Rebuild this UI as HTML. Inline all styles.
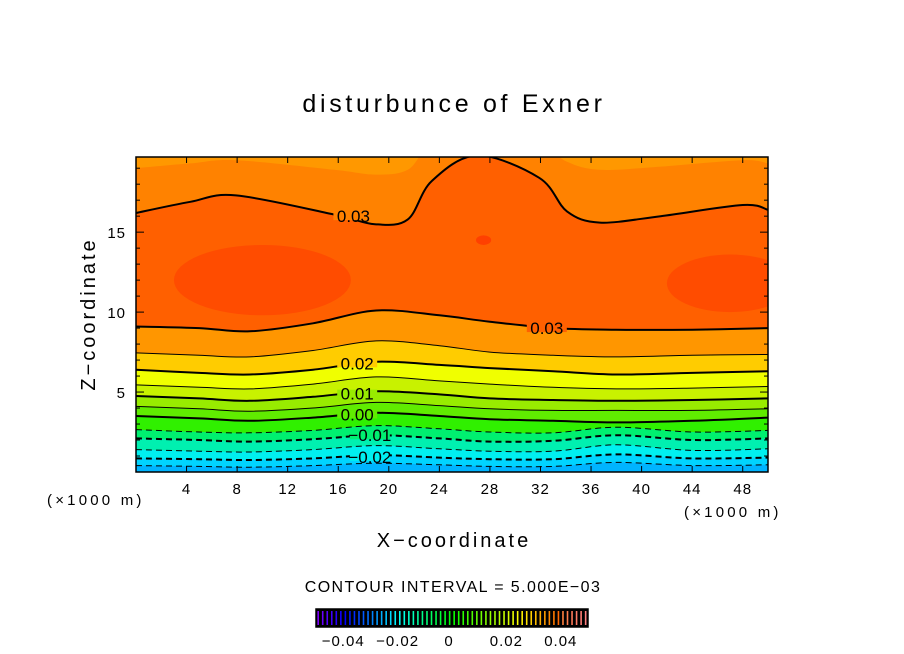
<!DOCTYPE html>
<html><head><meta charset="utf-8"><style>
body{margin:0;background:#fff;}
svg{display:block;font-family:"Liberation Sans","DejaVu Sans",sans-serif;}
</style></head><body>
<svg id="chart" width="904" height="654" viewBox="0 0 904 654" xmlns="http://www.w3.org/2000/svg">
<text x="454" y="112" font-size="25" letter-spacing="3.7" text-anchor="middle" fill="#000">disturbunce of Exner</text>
<g id="plot"></g>
<text transform="translate(95,314) rotate(-90)" font-size="20" letter-spacing="3" text-anchor="middle">Z−coordinate</text>
<text x="454" y="547" font-size="20" letter-spacing="3" text-anchor="middle">X−coordinate</text>
<text x="47" y="505" font-size="15" letter-spacing="3.2">(×1000 m)</text>
<text x="684" y="517" font-size="15" letter-spacing="3.2">(×1000 m)</text>
<text x="453" y="592" font-size="16" letter-spacing="1.4" text-anchor="middle">CONTOUR INTERVAL = 5.000E−03</text>
<g id="cbar"></g>
</svg>
<script>
const NS="http://www.w3.org/2000/svg";
const xs=[0,5,9,14,19,24,28,33,38,44,50];
const levels=[-0.025,-0.02,-0.015,-0.01,-0.005,0,0.005,0.01,0.015,0.02,0.025,0.03];
const zL_m025=[0.4,0.35,0.3,0.4,0.55,0.45,0.35,0.35,0.6,0.4,0.45];
const zL_m020=[0.85,0.8,0.75,0.85,1.05,0.9,0.8,0.8,1.1,0.85,0.9];
const zL_m015=[1.4,1.3,1.25,1.4,1.65,1.45,1.3,1.3,1.7,1.35,1.45];
const zL_m010=[2.1,2.0,1.9,2.05,2.3,2.1,1.9,1.95,2.3,2.0,2.1];
const zL_m005=[2.65,2.5,2.45,2.6,2.9,2.7,2.5,2.45,2.8,2.5,2.6];
const zL_000=[3.5,3.35,3.2,3.4,3.7,3.5,3.3,3.2,3.1,3.2,3.4];
const zL_005=[4.1,3.95,3.8,4.0,4.35,4.15,3.95,3.85,3.85,3.85,3.95];
const zL_010=[4.75,4.6,4.45,4.7,5.05,4.85,4.6,4.5,4.45,4.5,4.6];
const zL_015=[5.45,5.3,5.2,5.5,5.95,5.7,5.5,5.3,5.2,5.25,5.35];
const zL_020=[6.4,6.2,6.1,6.4,6.9,6.7,6.5,6.3,6.1,6.2,6.3];
const zL_025=[7.45,7.3,7.2,7.6,8.2,7.9,7.5,7.3,7.2,7.3,7.35];
const zL_030=[9.1,9.0,8.8,9.3,10.1,9.8,9.4,9.0,8.9,8.9,9.0];
const lowerZ=[zL_m025,zL_m020,zL_m015,zL_m010,zL_m005,zL_000,zL_005,zL_010,zL_015,zL_020,zL_025,zL_030];
const bandColors=["#00b4ff","#00d4ff","#00f0f0","#00f0b0","#00f070","#30f000","#60ec00","#98ec00","#c8f200","#f0ff00","#ffcc00","#ff9600","#ff6000"];
const xsU=[0,4.3,7.9,15.7,18.9,21.5,23.4,27,31.9,34.1,36.7,41.5,48,50];
const zU_030=[16.2,16.9,17.3,16.1,15.5,15.8,18.2,19.8,18.4,16.3,15.6,16,16.7,16.4];
const zU_025=[19.0,19.3,19.5,18.9,18.6,18.9,20.5,21,20.5,19.4,18.9,19.1,19.5,19.3];
const coreX=[10,47,27.5];const coreZ=[12,11.8,14.5];const coreRX=[7,5,0.6];const coreRZ=[2.2,1.8,0.3];
const xTicks=[4,8,12,16,20,24,28,32,36,40,44,48];
const yTicks=[5,10,15];
const cbTicks=[-0.04,-0.02,0,0.02,0.04];
const cbTickLabels=["−0.04","−0.02","0","0.02","0.04"];
const X0=136,X1=768,Y0=472,Y1=157,XMAX=50,ZMAX=19.7;
const sx=v=>X0+v/XMAX*(X1-X0);
const sz=v=>Y0-v/ZMAX*(Y0-Y1);
const plot=document.getElementById('plot');
function mk(tag,attrs,parent){const e=document.createElementNS(NS,tag);for(const k in attrs)e.setAttribute(k,attrs[k]);(parent||plot).appendChild(e);return e;}
const defs=mk('defs',{});const cp=mk('clipPath',{id:'clip'},defs);mk('rect',{x:X0,y:Y1,width:X1-X0,height:Y0-Y1},cp);
const g=mk('g',{'clip-path':'url(#clip)'});
function line(xa,za){
 const P=xa.map((x,i)=>[sx(x),sz(za[i])]);
 let d='M'+P[0][0].toFixed(1)+','+P[0][1].toFixed(1);
 for(let i=0;i<P.length-1;i++){const p0=P[Math.max(0,i-1)],p1=P[i],p2=P[i+1],p3=P[Math.min(P.length-1,i+2)];
  const c1=[p1[0]+(p2[0]-p0[0])/6,p1[1]+(p2[1]-p0[1])/6],c2=[p2[0]-(p3[0]-p1[0])/6,p2[1]-(p3[1]-p1[1])/6];
  d+=` C${c1[0].toFixed(1)},${c1[1].toFixed(1)} ${c2[0].toFixed(1)},${c2[1].toFixed(1)} ${p2[0].toFixed(1)},${p2[1].toFixed(1)}`;}
 return d;}
let r=mk('rect',{x:X0,y:Y1,width:X1-X0,height:Y0-Y1,fill:bandColors[0]},g);


lowerZ.forEach((za,i)=>{
 const p=mk('path',{d:line(xs,za)+` L${X1},${Y1-5} L${X0},${Y1-5} Z`,fill:bandColors[i+1]},g);
 
 
});
coreX.forEach((cx,i)=>{
 const e=mk('ellipse',{cx:sx(cx),cy:sz(coreZ[i]),rx:coreRX[i]/XMAX*(X1-X0),ry:coreRZ[i]/ZMAX*(Y0-Y1),fill:i==2?'#ff4000':'#ff4c00'},g);
 
 
});
let pu=mk('path',{d:line(xsU,zU_030)+` L${X1},${Y1-5} L${X0},${Y1-5} Z`,fill:'#ff8200'},g);


pu=mk('path',{d:line(xsU,zU_025)+` L${X1},${Y1-5} L${X0},${Y1-5} Z`,fill:'#ff9800'},g);


lowerZ.forEach((za,i)=>{
 const lv=levels[i];const thick=Math.abs(Math.round(lv*100)-lv*100)<1e-6;
 const p=mk('path',{d:line(xs,za),fill:'none',stroke:'#000','stroke-width':thick?2:1,'stroke-dasharray':lv<0?'6,4':'none'},g);
 
 
});
let cl=mk('path',{d:line(xsU,zU_030),fill:'none',stroke:'#000','stroke-width':2},g);


const labs=[["0.03",17.2,16.0,'#ff8200'],["0.03",32.5,9.0,'#ff6000'],["0.02",17.5,6.8,'#ffcc00'],["0.01",17.5,4.9,'#98ec00'],["0.00",17.5,3.6,'#60ec00'],["−0.01",18.5,2.3,'#00f070'],["−0.02",18.5,0.95,'#00f0f0']];
labs.forEach(l=>{
 mk('rect',{x:sx(l[1])-20,y:sz(l[2])-4,width:40,height:8,fill:l[3]},g);
 const t=mk('text',{x:sx(l[1]),y:sz(l[2])+6,'font-size':17,'text-anchor':'middle'},g);
 t.textContent=l[0];
 
 
});
mk('rect',{x:X0,y:Y1,width:X1-X0,height:Y0-Y1,fill:'none',stroke:'#000','stroke-width':1.5});
xTicks.forEach(v=>{
 mk('line',{x1:sx(v),x2:sx(v),y1:Y0,y2:Y0-6,stroke:'#000'});
 mk('line',{x1:sx(v),x2:sx(v),y1:Y1,y2:Y1+6,stroke:'#000'});
 const t=mk('text',{x:sx(v),y:494,'font-size':15,'letter-spacing':1,'text-anchor':'middle'});
 t.textContent=v;
 
 
});
for(let v=1;v<20;v++){const L=v%5==0?8:4;
 mk('line',{x1:X0,x2:X0+L,y1:sz(v),y2:sz(v),stroke:'#000'});
 mk('line',{x1:X1,x2:X1-L,y1:sz(v),y2:sz(v),stroke:'#000'});}
yTicks.forEach(v=>{
 const t=mk('text',{x:126,y:sz(v)+6,'font-size':15,'letter-spacing':1,'text-anchor':'end'});
 t.textContent=v;
 
 
});
const cb=document.getElementById('cbar');
const CB0=316,CB1=588,CMIN=-0.05,CMAX=0.05;
const cx=v=>CB0+(v-CMIN)/(CMAX-CMIN)*(CB1-CB0);
mk('rect',{x:CB0,y:609,width:CB1-CB0,height:18,fill:'#000'},cb);
for(let k=0;k<60;k++){const v=CMIN+0.0008+k*(CMAX-CMIN)/60;const f=k/59;
 let h=f<0.5?270-f*2*150:120-(f-0.5)*2*120;let li=f>0.9?60+(f-0.9)*150:50;
 const s=mk('line',{x1:cx(v),x2:cx(v),y1:611,y2:625,stroke:`hsl(${h},100%,${li}%)`,'stroke-width':1.6},cb);
 
 }
mk('rect',{x:CB0,y:609,width:CB1-CB0,height:18,fill:'none',stroke:'#000','stroke-width':1.5},cb);
cbTicks.forEach((v,i)=>{
 const t=mk('text',{x:cx(v)-(i==2?3:0),y:646,'font-size':15,'letter-spacing':1,'text-anchor':'middle'},cb);
 t.textContent=cbTickLabels[i];
 
 
});
</script>
</body></html>
